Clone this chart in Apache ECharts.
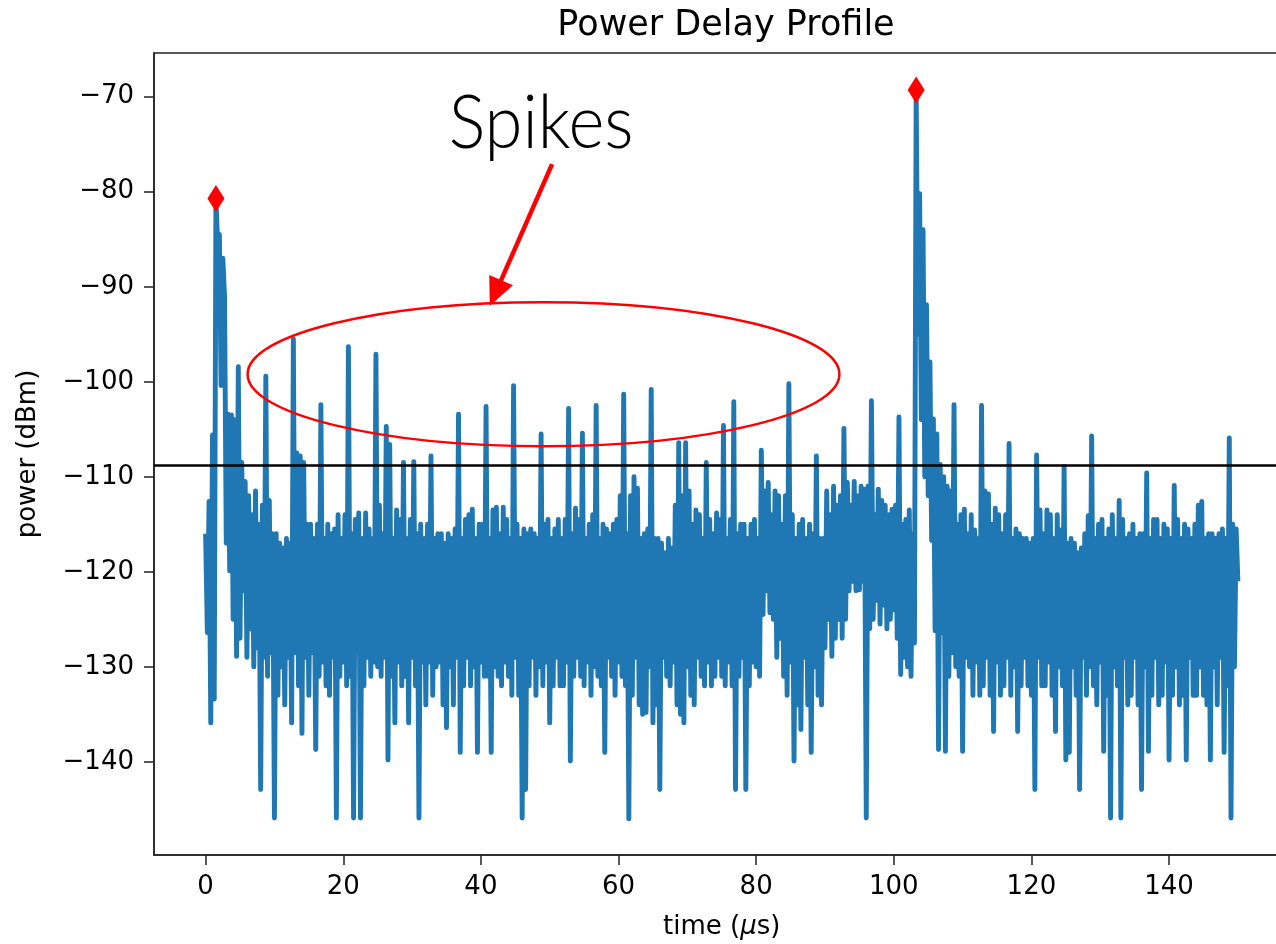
<!DOCTYPE html>
<html><head><meta charset="utf-8">
<script src="https://cdn.jsdelivr.net/npm/echarts@6/dist/echarts.min.js"></script>
<style>html,body{margin:0;padding:0;background:#fff}#c{width:1276px;height:944px}</style>
</head><body><div id="c"></div>
<script>
// ---- data ----
const sampleStep = 0.25; // μs between samples, first sample at t = 0
const power = [
-116,-126.4,-112.6,-135.9, -105.6,-133.4,-80.7,-85.5, -84.5,-100.4,-87,-91, -117,-103.4,-119.9,-103.5,
-125,-104,-128.9,-98.4, -127,-108.5,-122,-110.5, -129,-112,-126,-114, -130,-111.5,-128,-115,
-142.9,-113,-129,-99.4, -131,-112.5,-128.5,-116, -145.9,-116,-133,-117, -130,-117.5,-134,-116.5,
-129,-117,-135.9,-95.5, -128.5,-107.5,-132,-107.8, -137,-108.5,-129,-115, -133,-115,-128.5,-116.5,
-138.7,-115,-131,-102.4, -129.5,-116.5,-132,-115, -133,-116,-129,-115.5, -145.9,-114,-131,-116.5,
-129.5,-114,-132,-96.3, -131,-116,-145.9,-114.5, -128.5,-113.8,-145.9,-116.5, -132,-113.8,-129,-115.5,
-131,-116.5,-129.5,-97.1, -130,-113,-131,-116, -129,-104.7,-139.8,-106.6, -131,-116.5,-135.9,-113.5,
-129.5,-114.5,-132,-108.5, -131,-116.5,-135.9,-114.5, -129,-108.4,-132,-116, -145.9,-115,-129.5,-116.5,
-134,-115,-129.5,-107.8, -133,-116.5,-130,-116, -129.5,-116,-134,-117, -136.4,-116,-130,-116.5,
-134,-115.5,-129,-103.4, -139,-116.5,-132,-114.5, -129,-114,-132,-113.4, -130,-116.5,-139,-115,
-129.5,-115,-131,-102.6, -131,-116.5,-139,-113.5, -130,-113.2,-131,-116, -132,-113.2,-129.5,-114.5,
-131,-116.5,-133,-100.4, -129,-115,-133,-116.5, -145.9,-115.5,-142.9,-116, -132,-115.5,-129,-116,
-133,-116.5,-130,-105.5, -132,-115,-129.5,-114.5, -135.9,-116.5,-132,-115.5, -129,-114.5,-132,-116.5,
-132,-114.5,-129.5,-102.8, -139.9,-116,-131,-113.3, -129,-114.5,-131,-105.4, -132,-116.5,-129.5,-115,
-133,-114,-130,-102.5, -131,-116.5,-132,-115, -139,-115.5,-129,-116, -131,-115,-133,-114.5,
-129.5,-112,-131,-101.3, -132,-116,-146,-112, -133,-110,-129,-111.2, -134,-116.5,-135,-116,
-134.8,-115.5,-130,-100.8, -135.9,-116.5,-134,-116.5, -142.9,-117,-129,-118, -131,-116.5,-132,-117.5,
-129.5,-113,-134,-106.4, -135,-112,-135.9,-106.4, -130,-111.5,-133,-115, -134,-113.5,-129,-114,
-131,-116.5,-132,-108.5, -129.5,-114.5,-132,-116, -131,-113.8,-129,-114.5, -131,-104.6,-132,-116.5,
-129.5,-114.5,-132,-102.1, -142.9,-116,-131,-115, -129,-115,-142.9,-116.5, -132,-115,-129.5,-114.5,
-130,-116.5,-131,-107.2, -124.5,-111.5,-122,-110.6, -124.3,-114,-125,-111.5, -129,-112,-127,-115,
-131,-112,-133,-100.2, -129.5,-114,-139.9,-116.5, -134,-115,-136.6,-114.5, -129,-116.5,-134,-115,
-139,-116,-130,-107.8, -133,-116.5,-134,-116.5, -128,-111.5,-125,-114, -128.9,-111,-127,-113,
-125,-112,-127,-104.9, -125,-110.6,-122,-113, -121,-110.5,-122,-112, -121.9,-111,-121,-111.3,
-145.9,-111,-126,-102, -125,-114,-123,-111.3, -125.5,-112.5,-123.5,-113, -126,-114,-125,-113.4,
-124,-113,-127,-103.7, -130.8,-115,-129,-114.5, -130,-113.5,-131,-116, -127.5,-69.3,-95,-80.2,
-104,-84,-110,-91.9, -112,-97.9,-116.7,-103.9, -126.2,-105.5,-138.7,-108.7, -126.4,-110,-138.9,-111,
-131,-111.5,-128.5,-102.4, -130,-115,-131,-114, -138.9,-113.4,-129,-116, -130,-114,-133,-115.6,
-129.5,-116.5,-133,-102.5, -132,-111.5,-129,-111.8, -133,-115,-136.8,-113.3, -129.5,-114,-133,-116,
-132,-114,-129,-106.5, -133,-116.5,-130,-115.5, -136.8,-116,-132,-116.5, -129,-116.5,-132,-117,
-133,-116.5,-142.9,-107.7, -129,-113.5,-132,-116, -132,-113.5,-129.5,-114, -133,-116.5,-136.8,-114,
-130,-115.6,-132,-108.9, -139.8,-117,-139,-116.5, -130,-117,-133,-118, -142.9,-117.5,-129,-116,
-133,-114.1,-130,-105.7, -132,-116.5,-134,-115, -129.5,-114.5,-138.9,-116.5, -133,-115.5,-145.9,-114,
-130,-116.5,-132,-112.5, -145.9,-114.5,-129,-116.5, -134,-116,-133,-115, -129,-116.5,-134,-116,
-142.9,-116,-130,-109.6, -138.9,-116.5,-133,-114.5, -129,-114.5,-134,-116.5, -133,-115,-129.5,-115.5,
-139.8,-116.5,-133,-110.9, -130,-114.5,-134,-116.5, -133,-115,-139.8,-115.5, -129,-116.5,-133,-115,
-133,-113,-130,-112.6, -133,-116.5,-134,-116, -139.8,-116,-130,-116.5, -134,-116,-129,-115.5,
-139,-116.5,-132,-105.9, -145.9,-115,-130,-115.5,
-121
];
const peakTimes = [1.5, 103.25];
const peakPower = [-80.7, -69.3];
const threshold = -108.8;
const xTicks = [0, 20, 40, 60, 80, 100, 120, 140];
const yTicks = [-140, -130, -120, -110, -100, -90, -80, -70];
const xRange = [-7.5, 157.5];
const yRange = [-149.8, -65.4];

// ---- annotation placement (in data units) ----
const ann = {
  ellipseCenter: [49.1, -99.2], ellipseRadius: [43.0, 7.58],
  arrowFrom: [50.35, -77.1], arrowTo: [41.3, -92.0],
  label: 'Spikes', labelAt: [48.75, -72.9]
};

const fmt = v => (v < 0 ? '\u2212' + Math.abs(v) : String(v));
const FONT = 'DejaVu Sans';
const chart = echarts.init(document.getElementById('c'), null, {renderer: 'canvas'});
const option = {
  animation: false,
  backgroundColor: '#fff',
  title: {
    text: 'Power Delay Profile', left: 721, top: 3, textAlign: 'center',
    textStyle: {fontFamily: FONT, fontSize: 35, fontWeight: 'normal', color: '#000'}
  },
  grid: {left: 154, top: 53, right: -13.5, bottom: 89, show: true, borderColor: '#222', borderWidth: 1.5,
         containLabel: false, outerBoundsMode: 'none'},
  xAxis: {
    type: 'value', min: xRange[0], max: xRange[1],
    name: '{a|time (}{b|μ}{a|s)}', nameLocation: 'middle', nameGap: 59,
    nameTextStyle: {rich: {a: {fontFamily: FONT, fontSize: 26, color: '#000'}, b: {fontFamily: FONT, fontSize: 26, fontStyle: 'italic', color: '#000'}}},
    axisLine: {onZero: false, lineStyle: {color: '#222', width: 1.5}},
    axisTick: {customValues: xTicks, length: 10, lineStyle: {color: '#222', width: 1.5}},
    axisLabel: {customValues: xTicks, formatter: fmt, fontFamily: FONT, fontSize: 26, color: '#000', margin: 19},
    splitLine: {show: false}
  },
  yAxis: {
    type: 'value', min: yRange[0], max: yRange[1],
    name: 'power (dBm)', nameLocation: 'middle', nameGap: 113, nameRotate: 90,
    nameTextStyle: {fontFamily: FONT, fontSize: 26, color: '#000'},
    axisLine: {onZero: false, lineStyle: {color: '#222', width: 1.5}},
    axisTick: {customValues: yTicks, length: 10, lineStyle: {color: '#222', width: 1.5}},
    axisLabel: {customValues: yTicks, formatter: fmt, fontFamily: FONT, fontSize: 26, color: '#000', margin: 20},
    splitLine: {show: false}
  },
  series: [
    {
      type: 'line', name: 'power', data: power.map((v, i) => [i * sampleStep, v]),
      showSymbol: false, symbol: 'none', z: 2,
      lineStyle: {color: '#1f77b4', width: 4.9, join: 'round'}
    },
    {
      type: 'scatter', name: 'peaks', data: peakTimes.map((t, i) => [t, peakPower[i]]),
      symbol: 'diamond', symbolSize: [17, 27], z: 4,
      itemStyle: {color: '#ff0000', opacity: 1},
      markLine: {
        silent: true, symbol: ['none', 'none'], label: {show: false},
        lineStyle: {color: '#000', width: 2.5, type: 'solid'},
        data: [{yAxis: threshold}]
      }
    }
  ]
};
chart.setOption(option);

function drawAnnotations() {
  const P = p => chart.convertToPixel({gridIndex: 0}, p);
  const c = P(ann.ellipseCenter);
  const e = P([ann.ellipseCenter[0] + ann.ellipseRadius[0], ann.ellipseCenter[1] + ann.ellipseRadius[1]]);
  const rx = Math.abs(e[0] - c[0]), ry = Math.abs(c[1] - e[1]);
  const a0 = P(ann.arrowFrom), a1 = P(ann.arrowTo);
  const dx = a1[0] - a0[0], dy = a1[1] - a0[1], len = Math.hypot(dx, dy);
  const ux = dx / len, uy = dy / len, headLen = 28, headHalf = 13;
  const bx = a1[0] - ux * headLen, by = a1[1] - uy * headLen;
  const lab = P(ann.labelAt);
  chart.setOption({
    graphic: [
      {type: 'ellipse', shape: {cx: c[0], cy: c[1], rx: rx, ry: ry}, z: 100,
       style: {fill: 'none', stroke: '#ff0000', lineWidth: 2.5}},
      {type: 'line', shape: {x1: a0[0], y1: a0[1], x2: bx + ux * 4, y2: by + uy * 4}, z: 100,
       style: {stroke: '#ff0000', lineWidth: 4.5}},
      {type: 'polygon', z: 100,
       shape: {points: [[a1[0], a1[1]], [bx - uy * headHalf, by + ux * headHalf], [bx + uy * headHalf, by - ux * headHalf]]},
       style: {fill: '#ff0000'}},
      {type: 'text', x: lab[0], y: lab[1], z: 100, scaleX: 0.93,
       style: {text: ann.label, font: '300 74px Lato', fill: '#000', align: 'center', verticalAlign: 'middle'}}
    ]
  });
}
drawAnnotations();
</script>
</body></html>
